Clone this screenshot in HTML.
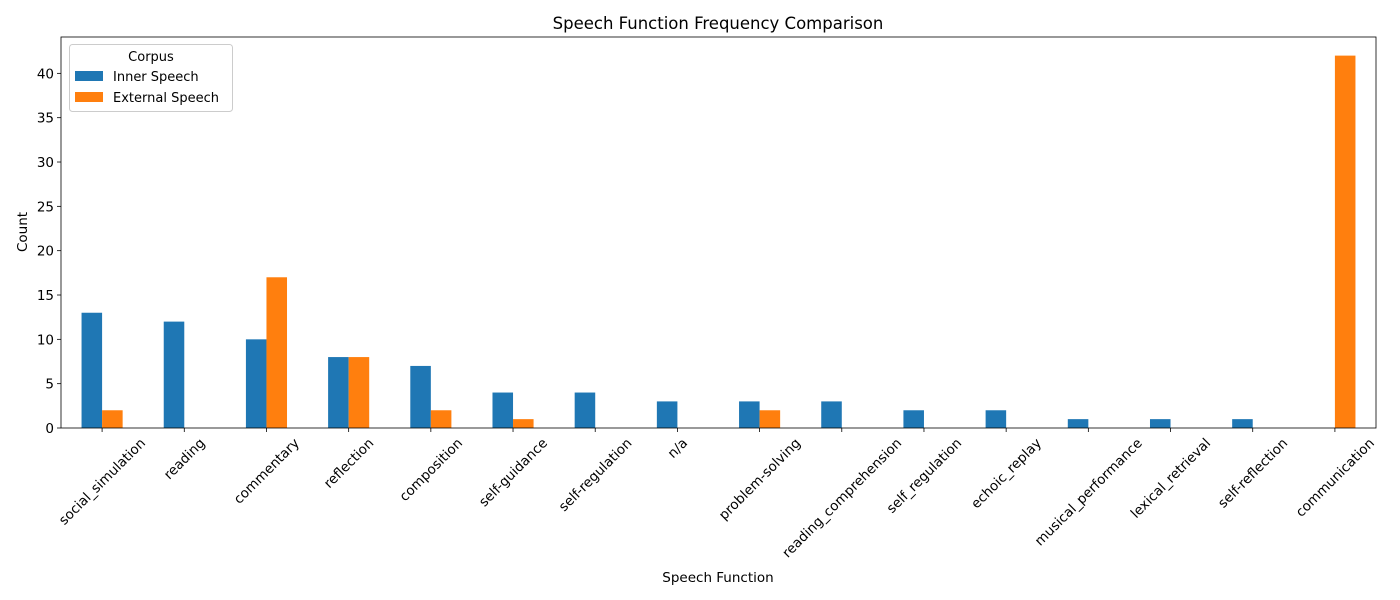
<!DOCTYPE html>
<html><head><meta charset="utf-8"><style>
body{margin:0;background:#fff}
svg{display:block;font-family:"DejaVu Sans","Liberation Sans",sans-serif}
</style></head><body>
<svg id="chart" width="1400" height="600" xmlns="http://www.w3.org/2000/svg">
<text x="718" y="29" font-size="16.5" text-anchor="middle" fill="#000">Speech Function Frequency Comparison</text>
<g id="plot"></g>
<text x="718" y="582" font-size="13.5" text-anchor="middle">Speech Function</text>
<text transform="translate(27,232) rotate(-90)" font-size="13.5" text-anchor="middle">Count</text>
<g>
<rect x="69.5" y="44.5" width="163" height="67" rx="3" fill="#fff" fill-opacity="0.8" stroke="#ccc"/>
<text x="151" y="61" font-size="13" text-anchor="middle">Corpus</text>
<g><rect x="75" y="71" width="28" height="10" fill="#1f77b4"/><text x="113" y="81" font-size="13">Inner Speech</text></g>
<g><rect x="75" y="92" width="28" height="10" fill="#ff7f0e"/><text x="113" y="102" font-size="13">External Speech</text></g>
</g>
</svg>
<script>
const categories=["social_simulation","reading","commentary","reflection","composition","self-guidance","self-regulation","n/a","problem-solving","reading_comprehension","self_regulation","echoic_replay","musical_performance","lexical_retrieval","self-reflection","communication"];
const innerSpeech=[13,12,10,8,7,4,4,3,3,3,2,2,1,1,1,0];
const externalSpeech=[2,0,17,8,2,1,0,0,2,0,0,0,0,0,0,42];
const yTicks=[0,5,10,15,20,25,30,35,40];
const NS="http://www.w3.org/2000/svg";
const L=61,R=1376,T=37,B=428;
const xmin=-0.5,xmax=categories.length-0.5;
const ymax=Math.max(...innerSpeech,...externalSpeech)*1.05;
const xs=v=>L+(v-xmin)/(xmax-xmin)*(R-L);
const ys=v=>B-v/ymax*(B-T);
const g=document.getElementById('plot');
function mk(t,a){const e=document.createElementNS(NS,t);for(const k in a)e.setAttribute(k,a[k]);g.appendChild(e);return e;}
const bw=0.25;
categories.forEach((c,i)=>{
  const r1=mk('rect',{x:xs(i-bw),y:ys(innerSpeech[i]),width:xs(i)-xs(i-bw),height:B-ys(innerSpeech[i]),fill:'#1f77b4'});
  
  
  const r2=mk('rect',{x:xs(i),y:ys(externalSpeech[i]),width:xs(i+bw)-xs(i),height:B-ys(externalSpeech[i]),fill:'#ff7f0e'});
  
  
  mk('line',{x1:xs(i),x2:xs(i),y1:B,y2:B+4,stroke:'#000','stroke-width':0.8});
  const t=mk('text',{'font-size':13.5,'text-anchor':'middle'});
  t.textContent=c;
  
  
  const len=t.getComputedTextLength();
  const h=13;
  const bh=(len+h)*0.7071;
  t.setAttribute('transform','translate('+xs(i)+','+(B+8+bh/2)+') rotate(-45) translate(0,'+(h*0.35)+')');
});
yTicks.forEach(v=>{
  mk('line',{x1:L-4,x2:L,y1:ys(v),y2:ys(v),stroke:'#000','stroke-width':0.8});
  const t=mk('text',{x:L-7,y:ys(v)+5,'font-size':13.5,'text-anchor':'end'});
  t.textContent=v;
  
  
});
const f=mk('rect',{x:L,y:T,width:R-L,height:B-T,fill:'none',stroke:'#000','stroke-width':0.8});


</script>
</body></html>
